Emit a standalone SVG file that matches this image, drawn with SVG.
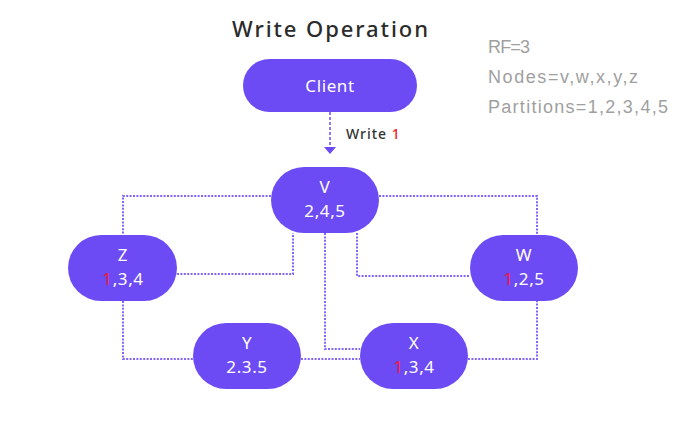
<svg xmlns="http://www.w3.org/2000/svg" width="678" height="428" viewBox="0 0 678 428">
<style>
.node{fill:#6d4bf4}
.lbl{font-family:"Noto Sans","Liberation Sans",Arial,sans-serif;font-size:17px;fill:#ffffff;text-anchor:middle;letter-spacing:0.6px}
.red{fill:#ee1b3a}
.conn{fill:none;stroke:#8466f6;stroke-width:2;stroke-dasharray:2 1.4}
.info{font-family:"Liberation Sans",Arial,sans-serif;font-size:18px;fill:#9f9f9f}
</style>
<rect width="678" height="428" fill="#ffffff"/>
<text x="232" y="37" font-family="'Noto Sans','Liberation Sans',Arial,sans-serif" font-size="22" font-weight="500" fill="#2b2b2b" textLength="196" lengthAdjust="spacing">Write Operation</text>
<text class="info" x="488" y="53" textLength="42" lengthAdjust="spacing">RF=3</text>
<text class="info" x="488" y="83" textLength="150" lengthAdjust="spacing">Nodes=v,w,x,y,z</text>
<text class="info" x="488" y="113" textLength="180" lengthAdjust="spacing">Partitions=1,2,3,4,5</text>
<g id="connectors">
<line x1="330" y1="112" x2="330" y2="147" stroke="#6d4bf4" stroke-width="1.5" stroke-dasharray="3 2"/>
<polygon points="324,147 336,147 330,154" fill="#6d4bf4"/>
<text x="346" y="139" font-family="'Noto Sans','Liberation Sans',Arial,sans-serif" font-size="14" font-weight="500" fill="#333333" letter-spacing="1">Write <tspan fill="#f01a1a">1</tspan></text>
<polyline class="conn" points="271,196 123,196 123,235"/>
<polyline class="conn" points="177,274 293,274 293,233"/>
<polyline class="conn" points="379,196 537,196 537,235"/>
<polyline class="conn" points="357,233 357,276 470,276"/>
<polyline class="conn" points="325,233 325,349 360,349"/>
<polyline class="conn" points="123,301 123,359 193,359"/>
<line class="conn" x1="301" y1="359" x2="360" y2="359"/>
<polyline class="conn" points="468,359 537,359 537,301"/>
</g>
<g id="client">
<rect class="node" x="243" y="59" width="174" height="53" rx="26.5"/>
<text class="lbl" x="330" y="92">Client</text>
</g>
<g id="v">
<rect class="node" x="271" y="167" width="108" height="66" rx="33"/>
<text class="lbl" x="325" y="193">V</text>
<text class="lbl" x="325" y="217">2,4,5</text>
</g>
<g id="z">
<rect class="node" x="68" y="235" width="109" height="66" rx="33"/>
<text class="lbl" x="123" y="261">Z</text>
<text class="lbl" x="123" y="285"><tspan class="red">1</tspan>,3,4</text>
</g>
<g id="w">
<rect class="node" x="470" y="235" width="108" height="66" rx="33"/>
<text class="lbl" x="524" y="261">W</text>
<text class="lbl" x="524" y="285"><tspan class="red">1</tspan>,2,5</text>
</g>
<g id="y">
<rect class="node" x="193" y="323" width="108" height="66" rx="33"/>
<text class="lbl" x="247" y="349">Y</text>
<text class="lbl" x="247" y="373">2.3.5</text>
</g>
<g id="x">
<rect class="node" x="360" y="323" width="108" height="66" rx="33"/>
<text class="lbl" x="414" y="349">X</text>
<text class="lbl" x="414" y="373"><tspan class="red">1</tspan>,3,4</text>
</g>
</svg>
